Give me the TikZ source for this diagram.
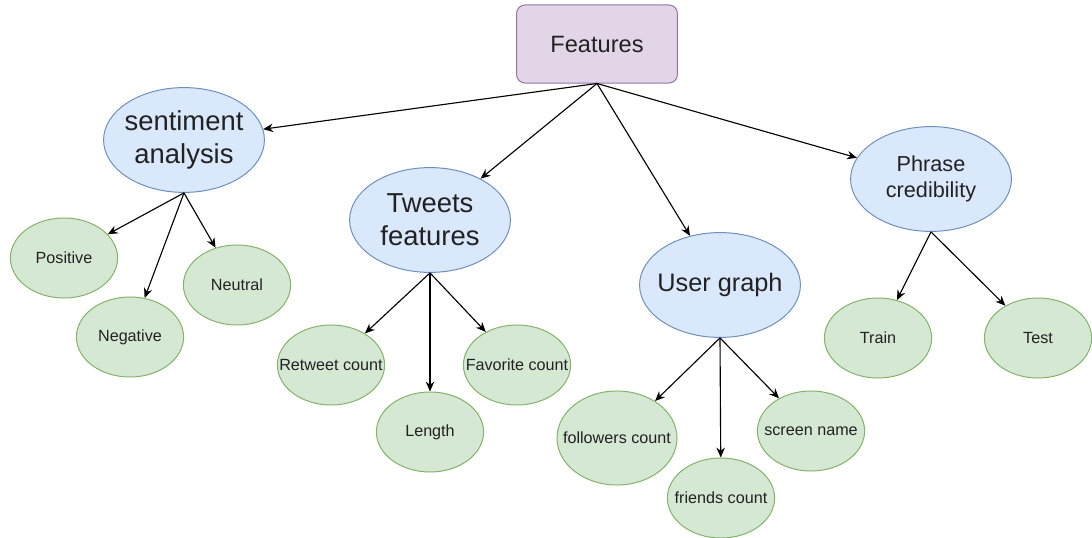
\documentclass[tikz,border=0pt]{standalone}
\usepackage{fontspec}
\setmainfont{Liberation Sans}
\usetikzlibrary{shapes.geometric,arrows.meta}
\definecolor{purplefill}{HTML}{E1D5E7}
\definecolor{purpleline}{HTML}{9673A6}
\definecolor{bluefill}{HTML}{DAE8FC}
\definecolor{blueline}{HTML}{6C8EBF}
\definecolor{greenfill}{HTML}{D5E8D4}
\definecolor{greenline}{HTML}{82B366}
\definecolor{labeltext}{HTML}{222222}
\begin{document}
\begin{tikzpicture}[x=0.025cm,y=-0.025cm,
    root/.style={rectangle,rounded corners=6pt,draw=purpleline,fill=purplefill,line width=0.7pt,
      minimum width=4.02cm,minimum height=1.95cm,inner sep=0pt,text=labeltext,
      font=\fontsize{16.8}{20}\selectfont},
    group/.style={ellipse,draw=blueline,fill=bluefill,line width=0.7pt,
      minimum width=4.02cm,minimum height=2.62cm,inner xsep=-0.8cm,inner ysep=0pt,
      align=center,text=labeltext},
    leaf/.style={ellipse,draw=greenline,fill=greenfill,line width=0.7pt,
      minimum width=2.68cm,minimum height=2.0cm,inner xsep=-0.6cm,inner ysep=0pt,
      text=labeltext,font=\fontsize{11.5}{13}\selectfont},
    link/.style={-{Stealth[length=7pt,width=6pt]},line width=0.8pt}]
  \useasboundingbox (0,0) rectangle (1092,538);
  % top
  \node[root] (feat) at (597,44) {Features};
  % groups
  \node[group,font=\fontsize{19.5}{23.5}\selectfont] (senti) at (184,140) {sentiment\\analysis};
  \node[group,font=\fontsize{19.5}{23.5}\selectfont] (tweets) at (430,220) {Tweets\\features};
  \node[group,font=\fontsize{18}{22}\selectfont] (user) at (720,285) {User graph};
  \node[group,font=\fontsize{15.4}{18.5}\selectfont] (phrase) at (931,179) {Phrase\\credibility};
  % leaves
  \node[leaf] (pos) at (64,258) {Positive};
  \node[leaf] (neg) at (130,337) {Negative};
  \node[leaf] (neu) at (237,285) {Neutral};
  \node[leaf] (rt) at (331,365) {Retweet count};
  \node[leaf] (len) at (430,432) {Length};
  \node[leaf] (fav) at (517,365) {Favorite count};
  \node[leaf,minimum width=3.0cm,minimum height=2.35cm] (fol) at (617,438) {followers count};
  \node[leaf] (fri) at (721,498) {friends count};
  \node[leaf] (scr) at (811,431) {screen name};
  \node[leaf] (train) at (878,338) {Train};
  \node[leaf] (test) at (1038,338) {Test};
  \begin{scope}[link]
    \draw (feat.south) -- (senti);
    \draw (feat.south) -- (tweets);
    \draw (feat.south) -- (user);
    \draw (feat.south) -- (phrase);
    \draw (senti.south) -- (pos);
    \draw (senti.south) -- (neg);
    \draw (senti.south) -- (neu);
    \draw (tweets.south) -- (rt);
    \draw (tweets.south) -- (len);
    \draw (tweets.south) -- (fav);
    \draw (user.south) -- (fol);
    \draw (user.south) -- (fri);
    \draw (user.south) -- (scr);
    \draw (phrase.south) -- (train);
    \draw (phrase.south) -- (test);
  \end{scope}
\end{tikzpicture}
\end{document}
